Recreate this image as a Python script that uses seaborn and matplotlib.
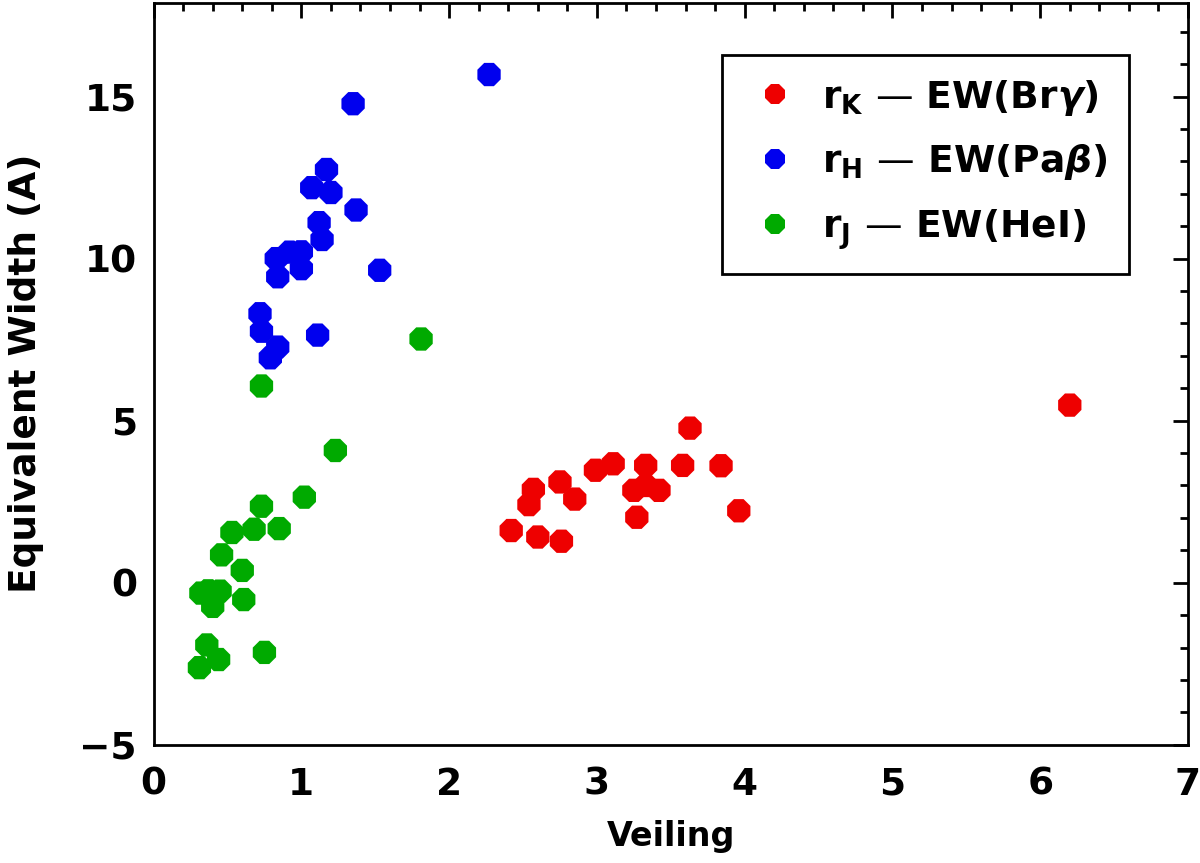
import matplotlib
matplotlib.use("Agg")
import matplotlib.pyplot as plt
from matplotlib.ticker import MultipleLocator
import pandas as pd
import seaborn as sns

# Veiling / equivalent width pairs
k_veil = [3.63, 2.99, 3.11, 3.33, 3.58, 3.84, 2.75, 2.57, 2.54, 2.85, 3.25, 3.42,
          3.33, 3.27, 3.96, 2.42, 2.60, 2.76, 6.20]
k_ew = [4.77, 3.47, 3.67, 3.62, 3.62, 3.61, 3.11, 2.88, 2.41, 2.58, 2.85, 2.85,
        3.00, 2.02, 2.22, 1.61, 1.41, 1.28, 5.48]

h_veil = [2.27, 1.35, 1.17, 1.07, 1.20, 1.37, 1.12, 1.14, 1.00, 0.92, 0.83, 1.00,
          0.84, 1.53, 0.72, 0.73, 1.11, 0.84, 0.79]
h_ew = [15.68, 14.78, 12.75, 12.19, 12.04, 11.50, 11.11, 10.59, 10.21, 10.20, 10.00,
        9.69, 9.44, 9.64, 8.30, 7.76, 7.64, 7.27, 6.94]

j_veil = [1.81, 0.73, 1.23, 1.02, 0.73, 0.53, 0.68, 0.85, 0.46, 0.60, 0.32, 0.45,
          0.40, 0.61, 0.36, 0.44, 0.31, 0.75, 0.37]
j_ew = [7.52, 6.07, 4.08, 2.64, 2.36, 1.55, 1.65, 1.67, 0.86, 0.38, -0.32, -0.26,
        -0.73, -0.52, -1.92, -2.37, -2.62, -2.15, -0.25]

labels = [r"$\mathbf{r}_\mathbf{K}$ — EW(Br$\gamma$)",
          r"$\mathbf{r}_\mathbf{H}$ — EW(Pa$\beta$)",
          r"$\mathbf{r}_\mathbf{J}$ — EW(HeI)"]
colors = ["#ee0000", "#0000ee", "#00aa00"]

df = pd.concat([
    pd.DataFrame({"Veiling": k_veil, "EW": k_ew, "series": labels[0]}),
    pd.DataFrame({"Veiling": h_veil, "EW": h_ew, "series": labels[1]}),
    pd.DataFrame({"Veiling": j_veil, "EW": j_ew, "series": labels[2]}),
])

sns.set_style("white")
plt.rcParams["font.family"] = ["DejaVu Sans"]
plt.rcParams["font.weight"] = "bold"
plt.rcParams["mathtext.default"] = "it"
for key in ["text.color", "axes.labelcolor", "xtick.color", "ytick.color"]:
    plt.rcParams[key] = "black"

fig = plt.figure(figsize=(12, 8.63), dpi=100)
ax = fig.add_axes([0.128, 0.137, 0.862, 0.86])

sns.scatterplot(data=df, x="Veiling", y="EW", hue="series", hue_order=labels,
                palette=colors, marker="8", s=330, linewidth=0, ax=ax)

ax.set_xlim(0, 7)
ax.set_ylim(-5, 17.9)
ax.xaxis.set_major_locator(MultipleLocator(1))
ax.xaxis.set_minor_locator(MultipleLocator(0.2))
ax.yaxis.set_major_locator(MultipleLocator(5))
ax.yaxis.set_minor_locator(MultipleLocator(1))
ax.tick_params(which="both", direction="in", top=True, right=True, width=2,
               labelsize=27, colors="black")
ax.tick_params(axis="x", pad=16)
ax.tick_params(axis="y", pad=12)
ax.tick_params(which="major", length=11)
ax.tick_params(which="minor", length=6)
for sp in ax.spines.values():
    sp.set_linewidth(2)
    sp.set_color("black")
for t in ax.get_xticklabels() + ax.get_yticklabels():
    t.set_fontweight("bold")

ax.set_xlabel("Veiling", fontsize=24, fontweight="bold", labelpad=12)
ax.set_ylabel("Equivalent Width (A)", fontsize=27, fontweight="bold")
ax.yaxis.set_label_coords(-0.106, 0.5)

leg = ax.legend(loc="upper right", bbox_to_anchor=(0.9615, 0.9545), fontsize=27,
                frameon=True, fancybox=False, edgecolor="black", framealpha=1,
                handletextpad=0.45, borderpad=0.6, labelspacing=0.66,
                markerscale=0.85, handlelength=1.6)
leg.get_frame().set_linewidth(2)
leg.get_frame().set_edgecolor("black")
for t in leg.get_texts():
    t.set_fontweight("bold")
    t.set_color("black")

fig.savefig("out.png", dpi=100)
